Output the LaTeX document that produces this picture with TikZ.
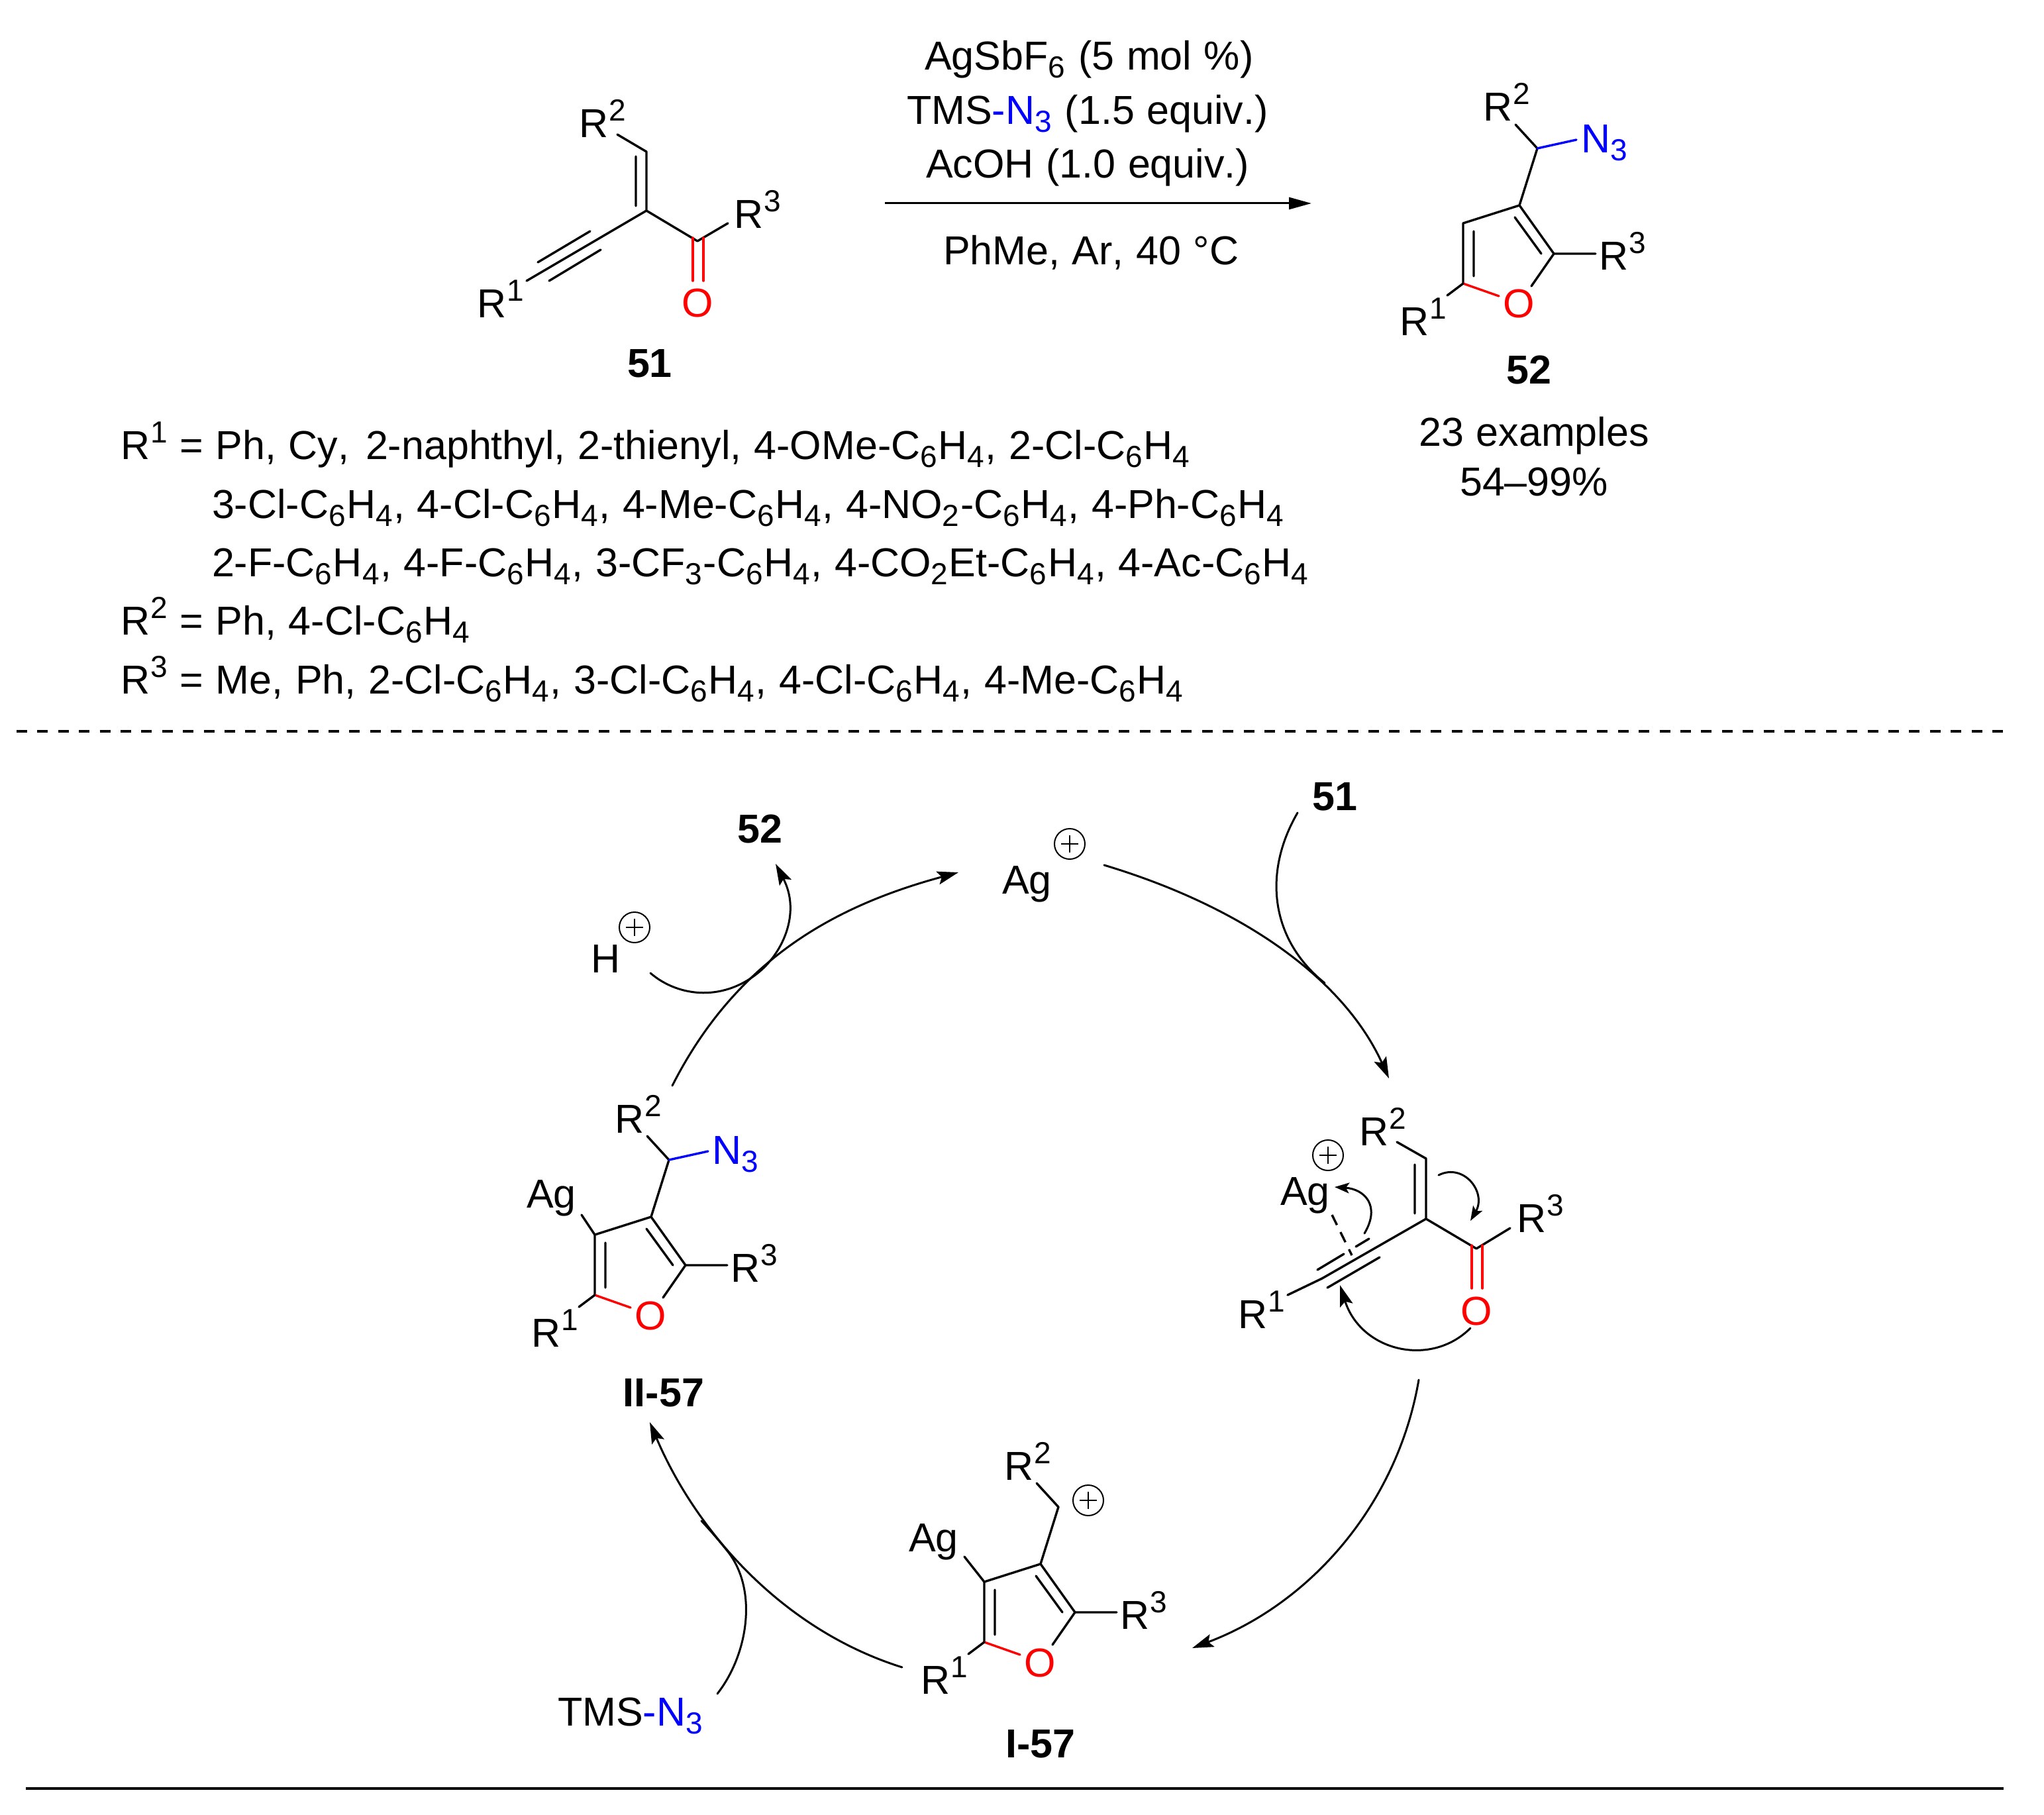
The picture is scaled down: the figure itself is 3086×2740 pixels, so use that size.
\documentclass[tikz,border=0pt]{standalone}
\usepackage{fontspec}
\setmainfont{Liberation Sans}[Kerning=Off,WordSpace=1.1]
\usetikzlibrary{arrows.meta}
\definecolor{obond}{RGB}{255,0,0}
\definecolor{nblue}{RGB}{0,0,255}
\newcommand\scr[1]{{\fontsize{23}{27}\selectfont #1}}
\newcommand\upp[1]{\raisebox{12.5pt}{\scr{#1}}}
\newcommand\dwn[1]{\raisebox{-6pt}{\scr{#1}}\hspace{0.75pt}}
\newcommand\Rn[1]{R\hspace{0.6pt}\upp{#1}}
\tikzset{
  lab/.style={inner sep=0pt,outer sep=0pt,anchor=base west,font=\fontsize{30.5}{36}\selectfont},
  cen/.style={inner sep=0pt,outer sep=0pt,anchor=base,font=\fontsize{30.5}{36}\selectfont},
  num/.style={inner sep=0pt,outer sep=0pt,anchor=base,font=\fontsize{30.5}{36}\selectfont\bfseries},
  bond/.style={line width=1.7pt,line cap=round,line join=round},
  redbond/.style={bond,draw=obond},
  bluebond/.style={bond,draw=nblue},
  curve/.style={line width=1.5pt,line cap=round},
  curvearrow/.style={curve,-{Stealth[length=16pt,width=10pt,inset=3pt]}},
  smallarrow/.style={curve,-{Stealth[length=11pt,width=8pt,inset=2.5pt]}},
  chargering/.style={circle,draw,line width=1pt,minimum size=23pt,inner sep=0pt,outer sep=0pt},
}
% furan core: #1 name prefix, (#2,#3) position of C5
\newcommand\furan[3]{%
 \begin{scope}[shift={(#2,#3)}]
  \coordinate (#1c5) at (0,0);
  \coordinate (#1c4) at (0,-91);
  \coordinate (#1c3) at (85,-118);
  \coordinate (#1c2) at (137,-45);
  \coordinate (#1ch) at (112,-204);
  \coordinate (#1a) at (16,-79);
  \coordinate (#1b) at (16,-11);
  \coordinate (#1d) at (78,-100);
  \coordinate (#1e) at (118,-45);
  \coordinate (#1o1) at (54,19);
  \coordinate (#1o2) at (103,4);
  \coordinate (#1r1b) at (-24,18);
  \coordinate (#1r3b) at (200,-45);
  \coordinate (#1r2b) at (79,-240);
  \node[lab,text=obond] (#1O) at (84,52) [anchor=base] {O};
  \node[lab] (#1R1) at (-96,78) {\Rn{1}};
  \node[lab] (#1R3) at (205,-20) {\Rn{3}};
  \node[lab] (#1R2) at (30,-245) {\Rn{2}};
  \draw[bond] (#1c5)--(#1c4)--(#1c3)--(#1c2)--(#1o2);
  \draw[bond] (#1a)--(#1b) (#1d)--(#1e);
  \draw[redbond] (#1c5)--(#1o1);
  \draw[bond] (#1c5)--(#1r1b) (#1c2)--(#1r3b);
  \draw[bond] (#1c3)--(#1ch)--(#1r2b);
 \end{scope}}
\newcommand\plusring[3]{%
  \node[chargering] (#1) at (#2,#3) {};
  \draw[line width=1pt] ([xshift=-6.5pt]#1.center)--([xshift=6.5pt]#1.center) ([yshift=-6.5pt]#1.center)--([yshift=6.5pt]#1.center);}
\begin{document}
\begin{tikzpicture}[x=0.5pt,y=-0.5pt]
\useasboundingbox (0,0) rectangle (3086,2740);
\fill[white] (0,0) rectangle (3086,2740);
% ---------- substrate 51
\coordinate (a1) at (976,318);
\coordinate (a2) at (976,229);
\coordinate (a3) at (932,203);
\coordinate (a4) at (1053,364);
\coordinate (a5) at (1099,337);
\coordinate (a6) at (795,424);
\coordinate (a7) at (960,236);
\coordinate (a8) at (960,311);
\coordinate (a9) at (891,349);
\coordinate (a10) at (812,396);
\coordinate (a11) at (907,377);
\coordinate (a12) at (829,424);
\coordinate (a13) at (1046,359);
\coordinate (a14) at (1046,424);
\coordinate (a15) at (1062,359);
\coordinate (a16) at (1062,424);
\node[lab] (s51R2) at (874,208) {\Rn{2}};
\node[lab] (s51R3) at (1108,344) {\Rn{3}};
\node[lab] (s51R1) at (720,479) {\Rn{1}};
\node[cen,text=obond] (s51O) at (1053,478) {O};
\node[num] (s51) at (981,569) {51};
\draw[bond] (a3)--(a2)--(a1)--(a4)--(a5) (a7)--(a8) (a1)--(a6) (a9)--(a10) (a11)--(a12);
\draw[redbond] (a13)--(a14) (a15)--(a16);
% ---------- reaction arrow and conditions
\node[lab] (c1) at (1396,106) {AgSbF\dwn{6} (5 mol \%)};
\node[lab] (c2) at (1369,188) {TMS\textcolor{nblue}{-N\dwn{3}} (1.5 equiv.)};
\node[lab] (c3) at (1398,269) {AcOH (1.0 equiv.)};
\node[lab] (c4) at (1424,400) {PhMe, Ar, 40 °C};
\coordinate (ra) at (1336,307);
\coordinate (rb) at (1980,307);
\draw[line width=1.5pt,-{Stealth[length=17pt,width=9pt,inset=0pt]}] (ra)--(rb);
% ---------- product 52
\furan{p}{2209}{428}
\node[lab,text=nblue] (pN) at (2387,231) {N\dwn{3}};
\coordinate (pn) at (2380,211);
\draw[bluebond] (pch)--(pn);
\node[num] (p52) at (2308,579) {52};
\node[cen] (ex1) at (2316,673) {23 examples};
\node[cen] (ex2) at (2316,748) {54–99\%};
% ---------- substituent list
\node[lab] (l1) at (182,693) {\Rn{1} = Ph, Cy,\hspace{3pt} 2-naphthyl, 2-thienyl, 4-OMe-C\dwn{6}H\dwn{4}, 2-Cl-C\dwn{6}H\dwn{4}};
\node[lab] (l2) at (320,782) {3-Cl-C\dwn{6}H\dwn{4}, 4-Cl-C\dwn{6}H\dwn{4}, 4-Me-C\dwn{6}H\dwn{4}, 4-NO\dwn{2}-C\dwn{6}H\dwn{4}, 4-Ph-C\dwn{6}H\dwn{4}};
\node[lab] (l3) at (320,870) {2-F-C\dwn{6}H\dwn{4}, 4-F-C\dwn{6}H\dwn{4}, 3-CF\dwn{3}-C\dwn{6}H\dwn{4}, 4-CO\dwn{2}Et-C\dwn{6}H\dwn{4}, 4-Ac-C\dwn{6}H\dwn{4}};
\node[lab] (l4) at (182,958) {\Rn{2} = Ph, 4-Cl-C\dwn{6}H\dwn{4}};
\node[lab] (l5) at (182,1047) {\Rn{3} = Me, Ph, 2-Cl-C\dwn{6}H\dwn{4}, 3-Cl-C\dwn{6}H\dwn{4}, 4-Cl-C\dwn{6}H\dwn{4}, 4-Me-C\dwn{6}H\dwn{4}};
% ---------- rules
\coordinate (d1) at (25,1104);
\coordinate (d2) at (3025,1104);
\coordinate (e1) at (39,2700);
\coordinate (e2) at (3025,2700);
\draw[line width=1.9pt,dash pattern=on 8pt off 7.7pt] (d1)--(d2);
\draw[line width=1.7pt] (e1)--(e2);
% ---------- cycle small species
\node[lab] (Ag0) at (1513,1349) {Ag};
\plusring{Ag0p}{1615}{1274}
\node[num] (c51) at (2015,1223) {51};
\node[num] (c52) at (1147,1272) {52};
\node[lab] (H0) at (892,1468) {H};
\plusring{H0p}{958}{1400}
\node[lab] (tms) at (842,2605) {TMS\textcolor{nblue}{-N\dwn{3}}};
% ---------- intermediate II-57
\furan{w}{898}{1955}
\node[lab,text=nblue] (wN) at (1075,1757) {N\dwn{3}};
\coordinate (wn) at (1069,1738);
\draw[bluebond] (wch)--(wn);
\node[lab] (wAg) at (795,1823) {Ag};
\coordinate (wag) at (878,1834);
\draw[bond] (wc4)--(wag);
\node[num] (w57) at (1002,2123) {II-57};
% ---------- intermediate I-57
\furan{v}{1486}{2479}
\plusring{vp}{1643}{2265}
\node[lab] (vAg) at (1372,2342) {Ag};
\coordinate (vag) at (1456,2350);
\draw[bond] (vc4)--(vag);
\node[num] (v57) at (1571,2653) {I-57};
% ---------- activated complex
\coordinate (b1) at (2153,1840);
\coordinate (b2) at (2153,1749);
\coordinate (b3) at (2109,1724);
\coordinate (b4) at (2229,1885);
\coordinate (b5) at (2280,1854);
\coordinate (b6) at (1996,1930);
\coordinate (b7) at (1944,1955);
\coordinate (b8) at (2136,1758);
\coordinate (b9) at (2136,1832);
\coordinate (b10) at (2067,1870);
\coordinate (b11) at (2047,1882);
\coordinate (b12) at (2029,1893);
\coordinate (b13) at (1989,1917);
\coordinate (b14) at (2083,1898);
\coordinate (b15) at (2004,1944);
\coordinate (b16) at (2222,1880);
\coordinate (b17) at (2222,1945);
\coordinate (b18) at (2238,1880);
\coordinate (b19) at (2238,1945);
\coordinate (b20) at (2011,1834);
\coordinate (b21) at (2041,1895);
\node[lab] (bR2) at (2052,1729) {\Rn{2}};
\node[lab] (bR3) at (2290,1860) {\Rn{3}};
\node[lab] (bR1) at (1869,2005) {\Rn{1}};
\node[cen,text=obond] (bO) at (2229,2000) {O};
\node[lab] (bAg) at (1933,1819) {Ag};
\plusring{bp}{2005}{1744}
\draw[bond] (b3)--(b2)--(b1)--(b4)--(b5) (b8)--(b9) (b1)--(b6)--(b7) (b10)--(b11) (b12)--(b13) (b14)--(b15);
\draw[redbond] (b16)--(b17) (b18)--(b19);
\draw[bond,line cap=butt,dash pattern=on 8.5pt off 6pt] (b20)--(b21);
% electron pushing arrows
\coordinate (f1) at (2060,1862);
\coordinate (f2) at (2015,1792);
\coordinate (f3) at (2172,1774);
\coordinate (f4) at (2220,1843);
\coordinate (f5) at (2220,2005);
\coordinate (f6) at (2023,1940);
\draw[smallarrow] (f1) .. controls (2085,1820) and (2060,1795) .. (f2);
\draw[smallarrow] (f3) .. controls (2210,1755) and (2245,1800) .. (f4);
\draw[curvearrow] (f5) .. controls (2160,2065) and (2055,2040) .. (f6);
% ---------- catalytic cycle arcs
\coordinate (g1) at (1015,1639);
\coordinate (g2) at (1447,1317);
\coordinate (g3) at (1667,1306);
\coordinate (g4) at (2097,1628);
\coordinate (g5) at (2142,2083);
\coordinate (g6) at (1800,2488);
\coordinate (g7) at (1362,2517);
\coordinate (g8) at (981,2147);
\coordinate (g9) at (1959,1227);
\coordinate (g10) at (2000,1484);
\coordinate (g11) at (982,1469);
\coordinate (g12) at (1150,1464);
\coordinate (g13) at (1171,1304);
\coordinate (g14) at (1083,2557);
\coordinate (g15) at (1097,2340);
\coordinate (g16) at (1059,2296);
\draw[curvearrow] (g1) .. controls (1115,1442) and (1270,1365) .. (g2);
\draw[curvearrow] (g3) .. controls (1880,1370) and (2030,1480) .. (g4);
\draw[curvearrow] (g5) .. controls (2110,2270) and (1980,2420) .. (g6);
\draw[curvearrow] (g7) .. controls (1180,2460) and (1050,2310) .. (g8);
\draw[curve] (g9) .. controls (1905,1320) and (1920,1420) .. (g10);
\draw[curvearrow] (g11) .. controls (1025,1506) and (1095,1513) .. (g12) .. controls (1185,1432) and (1208,1375) .. (g13);
\draw[curve] (g14) .. controls (1130,2497) and (1145,2398) .. (g15) .. controls (1085,2325) and (1072,2310) .. (g16);
\end{tikzpicture}
\end{document}
